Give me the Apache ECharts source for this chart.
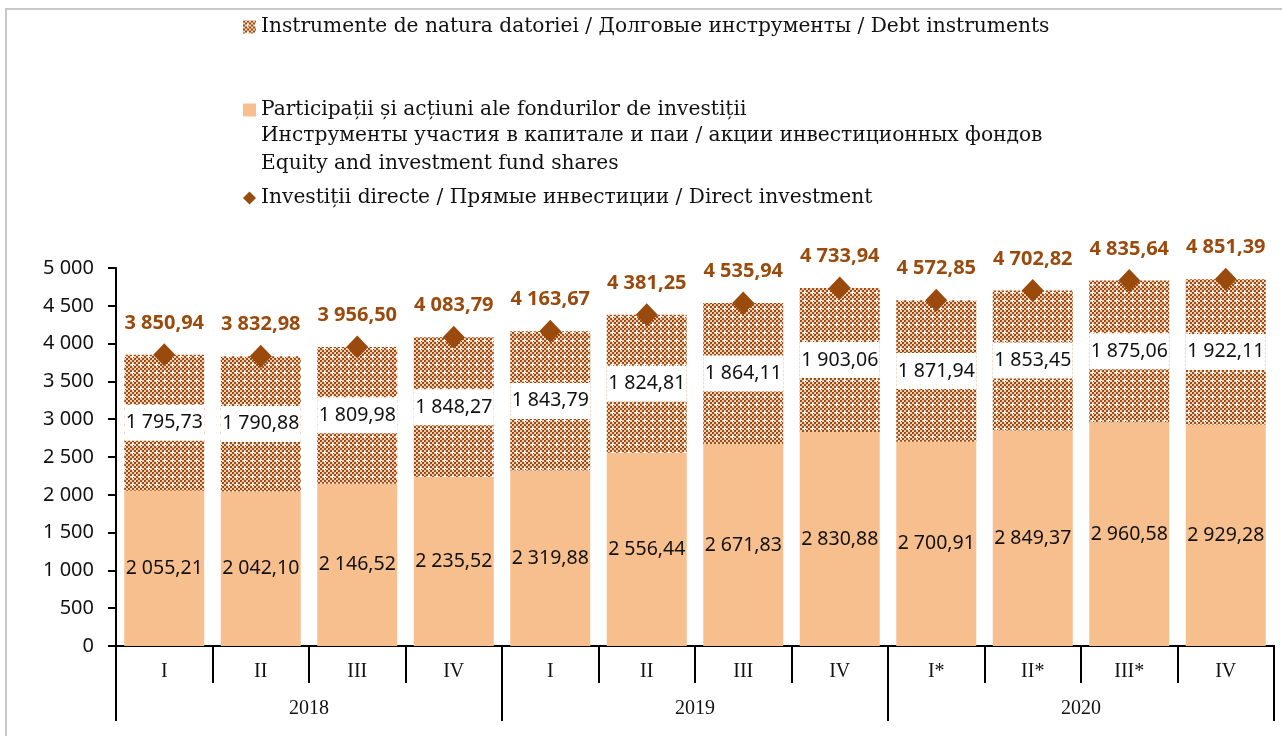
<!DOCTYPE html>
<html>
<head>
<meta charset="utf-8">
<script src="https://cdn.jsdelivr.net/npm/echarts@6/dist/echarts.min.js"></script>
<style>
  html, body { margin: 0; padding: 0; background: #fff; }
  #chart { width: 1282px; height: 736px; }
</style>
</head>
<body>
<div id="chart"></div>
<script>
// quarters and years
const quarters = ['I', 'II', 'III', 'IV', 'I', 'II', 'III', 'IV', 'I*', 'II*', 'III*', 'IV']
const years = ['2018', '2019', '2020']

// values, mil. USD
const equity = [2055.21, 2042.10, 2146.52, 2235.52, 2319.88, 2556.44, 2671.83, 2830.88, 2700.91, 2849.37, 2960.58, 2929.28]
const debt = [1795.73, 1790.88, 1809.98, 1848.27, 1843.79, 1824.81, 1864.11, 1903.06, 1871.94, 1853.45, 1875.06, 1922.11]
const direct = [3850.94, 3832.98, 3956.50, 4083.79, 4163.67, 4381.25, 4535.94, 4733.94, 4572.85, 4702.82, 4835.64, 4851.39]

const nameDebt = 'Instrumente de natura datoriei / Долговые инструменты / Debt instruments'
const nameEquity = 'Participații și acțiuni ale fondurilor de investiții'
const nameDirect = 'Investiții directe / Прямые инвестиции / Direct investment'

const numFont = 'Noto Sans'
const serifFont = 'DejaVu Serif'
const brown = '#9A4A0C'

// 2 055,21
function fmt(v, dec) {
  const parts = v.toFixed(dec).split('.')
  const int = parts[0].replace(/\B(?=(\d{3})+(?!\d))/g, ' ')
  return parts[1] ? int + ',' + parts[1] : int
}

// brown checker with white dots, like the excel fill
function makePattern() {
  const c = document.createElement('canvas')
  c.width = 8
  c.height = 8
  const ctx = c.getContext('2d')
  for (let y = 0; y < 8; y++) {
    for (let x = 0; x < 8; x++) {
      const dark = ((x >> 1) + (y >> 1)) % 2 === 0
      ctx.fillStyle = dark ? '#9E4C16' : '#F1D0B4'
      ctx.fillRect(x, y, 1, 1)
    }
  }
  ctx.fillStyle = '#ffffff'
  ctx.fillRect(3, 4, 3, 1)
  ctx.fillRect(4, 3, 1, 3)
  return c
}
const pattern = { image: makePattern(), repeat: 'repeat' }

const chart = echarts.init(document.getElementById('chart'))

const legendBase = {
  orient: 'vertical',
  left: 243,
  padding: 0,
  itemWidth: 13,
  itemHeight: 13,
  itemGap: 6,
  selectedMode: false,
  textStyle: { fontFamily: serifFont, fontSize: 20.2, color: '#111' }
}

const option = {
  animation: false,
  legend: [
    Object.assign({}, legendBase, { top: 17, data: [{ name: nameDebt, icon: 'rect' }] }),
    Object.assign({}, legendBase, { top: 100, data: [{ name: nameEquity, icon: 'rect' }] }),
    Object.assign({}, legendBase, { top: 188, data: [{ name: nameDirect, icon: 'diamond' }] })
  ],
  graphic: [
    {
      type: 'rect',
      silent: true,
      shape: { x: 6, y: 9, width: 1400, height: 900 },
      style: { fill: 'none', stroke: '#c8c8c8', lineWidth: 2 }
    },
    {
      type: 'text',
      left: 261,
      top: 126,
      style: {
        text: 'Инструменты участия в капитале и паи / акции инвестиционных фондов',
        font: '20.2px "DejaVu Serif"',
        fill: '#111'
      }
    },
    {
      type: 'text',
      left: 261,
      top: 154,
      style: {
        text: 'Equity and investment fund shares',
        font: '20.2px "DejaVu Serif"',
        fill: '#111'
      }
    }
  ],
  grid: {
    left: 116,
    right: 8,
    top: 268,
    bottom: 90,
    containLabel: false
  },
  xAxis: [
    {
      type: 'category',
      data: quarters,
      position: 'bottom',
      axisLine: { show: true, lineStyle: { color: '#000', width: 2 } },
      axisTick: { show: true, interval: 0, length: 37, lineStyle: { color: '#000', width: 2 } },
      axisLabel: { interval: 0, margin: 16, fontFamily: 'Liberation Serif', fontSize: 20, color: '#111' }
    },
    {
      type: 'category',
      data: years,
      position: 'bottom',
      axisLine: { show: true, lineStyle: { color: '#000', width: 2 } },
      axisTick: { show: true, interval: 0, length: 75, lineStyle: { color: '#000', width: 2 } },
      axisLabel: { interval: 0, margin: 53, fontFamily: 'Liberation Serif', fontSize: 20, color: '#111' }
    }
  ],
  yAxis: {
    type: 'value',
    min: 0,
    max: 5000,
    interval: 500,
    axisLine: { show: true, lineStyle: { color: '#000', width: 2 } },
    axisTick: { show: true, length: 8, lineStyle: { color: '#000', width: 2 } },
    splitLine: { show: false },
    axisLabel: {
      margin: 22,
      fontFamily: numFont,
      fontSize: 20,
      color: '#111',
      formatter: (v) => fmt(v, 0)
    }
  },
  series: [
    {
      name: nameEquity,
      type: 'bar',
      stack: 'fdi',
      barWidth: 80,
      data: equity,
      itemStyle: { color: '#F8BF8E' },
      label: {
        show: true,
        position: 'inside',
        fontFamily: numFont,
        fontSize: 19.5,
        color: '#111',
        formatter: (p) => fmt(p.value, 2)
      }
    },
    {
      name: nameDebt,
      type: 'bar',
      stack: 'fdi',
      barWidth: 80,
      data: debt,
      itemStyle: { color: pattern },
      label: {
        show: true,
        position: 'inside',
        fontFamily: numFont,
        fontSize: 19.5,
        color: '#111',
        backgroundColor: '#fff',
        width: 80,
        height: 36,
        lineHeight: 36,
        align: 'center',
        formatter: (p) => fmt(p.value, 2)
      }
    },
    {
      name: nameDirect,
      type: 'scatter',
      data: direct,
      symbol: 'diamond',
      symbolSize: [22, 23],
      itemStyle: { color: brown, opacity: 1 },
      z: 5,
      label: {
        show: true,
        position: 'top',
        distance: 10,
        fontFamily: numFont,
        fontWeight: 'bold',
        fontSize: 20,
        color: brown,
        opacity: 1,
        formatter: (p) => fmt(p.value, 2)
      }
    }
  ]
}

chart.setOption(option)
</script>
</body>
</html>
